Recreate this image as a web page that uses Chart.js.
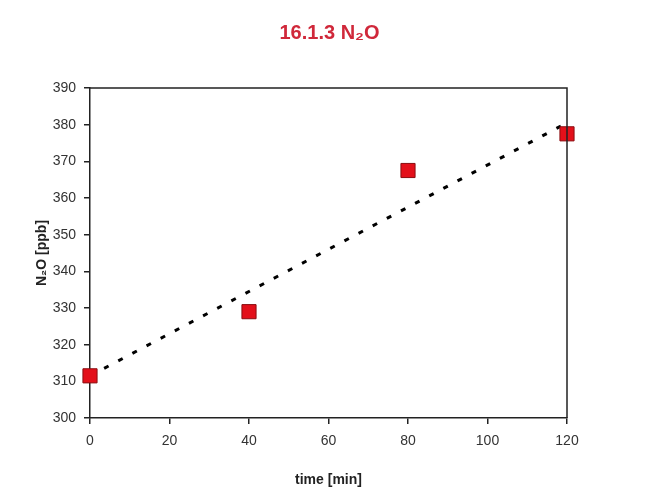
<!DOCTYPE html>
<html><head><meta charset="utf-8">
<script src="https://cdn.jsdelivr.net/npm/chart.js@4/dist/chart.umd.min.js"></script>
<style>html,body{margin:0;padding:0;background:#fff}#wrap{width:659px;height:493px}</style>
</head><body><div id="wrap"><canvas id="c" width="659" height="493"></canvas></div>
<script>
const timeMin = [0, 40, 80, 120];
const n2oPpb = [311.5, 329, 367.5, 377.5];
const trendTime = [0, 120];
const trendPpb = [311.5, 380.5];
const chartTitle = '16.1.3 N\u2082O';
const xTitle = 'time [min]';
const yTitle = 'N\u2082O [ppb]';

const boxPlugin = {
  id: 'box',
  afterDatasetsDraw(chart) {
    const a = chart.chartArea, ctx = chart.ctx;
    ctx.save();
    ctx.strokeStyle = '#222';
    ctx.lineWidth = 1.5;
    ctx.beginPath();
    ctx.moveTo(a.left, a.top);
    ctx.lineTo(a.right, a.top);
    ctx.lineTo(a.right, a.bottom);
    ctx.stroke();
    ctx.restore();
  }
};

new Chart(document.getElementById('c'), {
  type: 'scatter',
  data: {
    datasets: [
      {
        type: 'line',
        data: trendTime.map((t, i) => ({x: t, y: trendPpb[i]})),
        borderColor: '#000',
        borderWidth: 3,
        borderDash: [5, 11],
        pointRadius: 0,
        fill: false,
        order: 2,
        clip: false
      },
      {
        data: timeMin.map((t, i) => ({x: t, y: n2oPpb[i]})),
        pointStyle: 'rect',
        pointRadius: 10,
        backgroundColor: '#e3101a',
        borderColor: '#8a0d10',
        borderWidth: 1,
        order: 1,
        clip: false
      }
    ]
  },
  options: {
    responsive: false,
    animation: false,
    layout: { padding: { left: 0, right: 0, top: 0, bottom: 0 } },
    plugins: {
      legend: { display: false },
      tooltip: { enabled: false },
      title: {
        display: true,
        text: chartTitle,
        color: '#d0283a',
        font: { family: 'Liberation Sans', size: 20, weight: 'bold' },
        padding: { top: 21, bottom: 43 }
      }
    },
    scales: {
      x: {
        type: 'linear',
        min: 0, max: 120,
        afterFit(s) { s.height = 75; },
        ticks: { stepSize: 20, color: '#333', font: { family: 'Liberation Sans', size: 14 }, padding: 9 },
        grid: { display: true, drawOnChartArea: false, drawTicks: true, tickLength: 6, color: '#222', lineWidth: 1.5 },
        border: { display: true, color: '#222', width: 1.5 },
        title: { display: true, text: xTitle, color: '#222', font: { family: 'Liberation Sans', size: 14, weight: 'bold' }, padding: { top: 8 } }
      },
      y: {
        min: 300, max: 390,
        afterFit(s) { s.width = 90; },
        ticks: { stepSize: 10, color: '#333', font: { family: 'Liberation Sans', size: 14 }, padding: 8 },
        grid: { display: true, drawOnChartArea: false, drawTicks: true, tickLength: 6, color: '#222', lineWidth: 1.5 },
        border: { display: true, color: '#222', width: 1.5 },
        title: { display: true, text: yTitle, color: '#222', font: { family: 'Liberation Sans', size: 14, weight: 'bold' }, padding: { top: 34, bottom: 0 } }
      },
      yRight: {
        position: 'right',
        display: true,
        afterFit(s) { s.width = 92; },
        ticks: { display: false },
        grid: { display: false },
        border: { display: false }
      }
    }
  },
  plugins: [boxPlugin]
});
</script></body></html>
